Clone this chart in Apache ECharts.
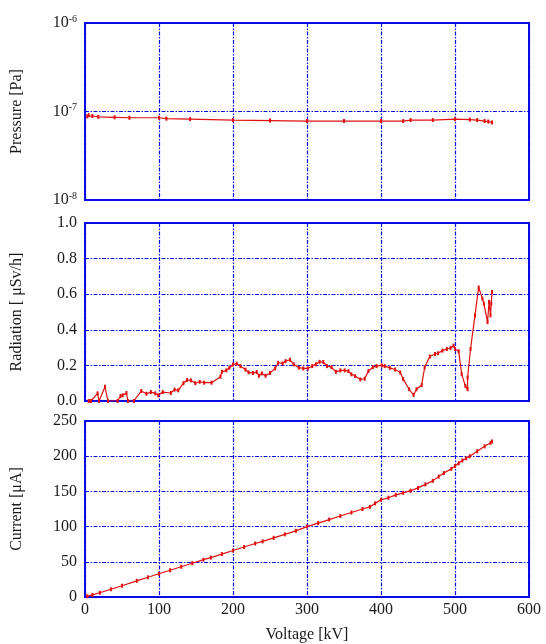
<!DOCTYPE html>
<html>
<head>
<meta charset="utf-8">
<script src="https://cdn.jsdelivr.net/npm/echarts@6/dist/echarts.min.js"></script>
<style>
html, body { margin: 0; padding: 0; background: #fff; }
#main { width: 546px; height: 644px; }
</style>
</head>
<body>
<div id="main"></div>
<script>
// pressure vs voltage
var pressureV = [3, 5, 10, 18, 40, 60, 100, 110, 142, 200, 250, 300, 350, 400, 430, 440, 470, 500, 520, 530, 540, 545, 550];
var pressureP = [8.8e-8, 9.1e-8, 8.9e-8, 8.7e-8, 8.6e-8, 8.5e-8, 8.5e-8, 8.3e-8, 8.2e-8, 8.0e-8, 7.9e-8, 7.8e-8, 7.8e-8, 7.8e-8, 7.8e-8, 8.0e-8, 8.0e-8, 8.2e-8, 8.1e-8, 8.0e-8, 7.8e-8, 7.7e-8, 7.5e-8];

// radiation vs voltage
var radiationV = [5, 8, 17, 19, 27, 31, 44, 48, 51, 56, 58, 66, 76, 83, 89, 95, 99, 105, 116, 121,
  126, 133, 138, 143, 149, 155, 161, 171, 183, 185, 191, 195, 200, 205, 210, 217, 221, 227, 232, 235,
  239, 244, 250, 257, 261, 267, 271, 277, 282, 289, 295, 301, 307, 312, 317, 322, 327, 333, 339, 345,
  351, 356, 360, 365, 372, 378, 383, 389, 394, 401, 405, 412, 419, 426, 430, 438, 444, 448, 455, 459,
  466, 473, 477, 483, 489, 494, 498, 500, 505, 509, 514, 517, 517, 521, 527, 532, 537, 539, 544, 546,
  548, 550, 549];
var radiationR = [0, 0, 0.043, 0, 0.08, 0, 0, 0.028, 0.032, 0.045, 0, 0, 0.056, 0.041, 0.05, 0.043, 0.032, 0.05, 0.045, 0.064,
  0.06, 0.1, 0.118, 0.116, 0.1, 0.108, 0.103, 0.103, 0.136, 0.164, 0.172, 0.187, 0.205, 0.21, 0.196, 0.176, 0.161, 0.157, 0.163, 0.142,
  0.155, 0.142, 0.157, 0.183, 0.215, 0.211, 0.224, 0.232, 0.206, 0.187, 0.183, 0.183, 0.196, 0.206, 0.22, 0.219, 0.196, 0.19, 0.164, 0.172,
  0.172, 0.168, 0.15, 0.14, 0.121, 0.125, 0.168, 0.19, 0.196, 0.2, 0.196, 0.186, 0.177, 0.16, 0.123, 0.066, 0.034, 0.066, 0.09, 0.189,
  0.25, 0.264, 0.268, 0.283, 0.292, 0.298, 0.311, 0.292, 0.279, 0.151, 0.085, 0.066, 0.132, 0.292, 0.481, 0.638, 0.575, 0.547, 0.443, 0.557,
  0.481, 0.613, 0.547];

// current vs voltage
var currentV = [3, 10, 20, 35, 50, 70, 85, 100, 115, 130, 145, 160, 170, 185, 200, 215, 230, 240, 255, 270, 285, 300, 315, 330, 345,
  360, 375, 385, 392, 400, 410, 420, 430, 440, 450, 460, 470, 478, 485, 495, 500, 505, 510, 515, 520, 530, 540, 548, 550];
var currentI = [1, 3, 6, 11, 16, 23, 28, 33, 38, 43, 48, 53, 56, 61, 66, 71, 76, 79, 84, 89, 94, 100, 105, 110, 115,
  120, 125, 128, 133, 138, 141, 145, 148, 151, 155, 160, 165, 171, 176, 182, 186, 190, 194, 197, 200, 207, 214, 219, 221];

var xTicks = [0, 100, 200, 300, 400, 500, 600];
var radTicks = [0, 0.2, 0.4, 0.6, 0.8, 1.0];
var curTicks = [0, 50, 100, 150, 200, 250];

function pairs(xs, ys) {
  var out = [];
  for (var i = 0; i < xs.length; i++) out.push([xs[i], ys[i]]);
  return out;
}

var blue = '#0a0ae6';
var red = '#e01010';
var ink = '#1a1a1a';
var font = '"Liberation Serif", "Times New Roman", serif';

// dash-dot grid like the original plot
var gridLine = { show: true, lineStyle: { color: blue, type: [4, 1.5, 1.5, 1.5], width: 1.2 } };
var axisLineS = { show: false };

function xAxisFor(idx, showLabel) {
  return {
    type: 'value', gridIndex: idx, min: xTicks[0], max: xTicks[xTicks.length - 1], interval: 100,
    axisLine: axisLineS, axisTick: { show: false },
    splitLine: gridLine,
    axisLabel: { show: showLabel, color: ink, fontFamily: font, fontSize: 16, margin: 5 },
    name: showLabel ? 'Voltage [kV]' : '',
    nameLocation: 'middle', nameGap: 30,
    nameTextStyle: { color: ink, fontFamily: font, fontSize: 16 }
  };
}

var lineSeries = function (xi, data) {
  return {
    type: 'line', xAxisIndex: xi, yAxisIndex: xi, data: data,
    symbol: 'rect', symbolSize: [2, 4], showSymbol: true,
    itemStyle: { color: red },
    lineStyle: { color: red, width: 1.2 },
    animation: false
  };
};

var chart = echarts.init(document.getElementById('main'), null, { renderer: 'canvas' });
var option = {
  backgroundColor: '#fff',
  animation: false,
  grid: [
    { left: 85, right: 17, top: 23, height: 177, show: true, borderColor: blue, borderWidth: 2 },
    { left: 85, right: 17, top: 223, height: 178, show: true, borderColor: blue, borderWidth: 2 },
    { left: 85, right: 17, top: 421, height: 178, show: true, borderColor: blue, borderWidth: 2 }
  ],
  xAxis: [xAxisFor(0, false), xAxisFor(1, false), xAxisFor(2, true)],
  yAxis: [
    {
      type: 'log', gridIndex: 0, min: 1e-8, max: 1e-6, logBase: 10,
      axisLine: axisLineS, axisTick: { show: false }, splitLine: gridLine,
      axisLabel: {
        margin: 8,
        formatter: function (v) {
          var e = Math.round(Math.log(v) / Math.LN10);
          return '{b|10}{s|' + e + '}';
        },
        rich: {
          b: { fontFamily: font, fontSize: 16, color: ink },
          s: { fontFamily: font, fontSize: 10, color: ink, verticalAlign: 'top', padding: [0, 0, 8, 0] }
        }
      },
      name: 'Pressure [Pa]', nameLocation: 'middle', nameGap: 60,
      nameTextStyle: { color: ink, fontFamily: font, fontSize: 16 }
    },
    {
      type: 'value', gridIndex: 1, min: radTicks[0], max: radTicks[radTicks.length - 1], interval: 0.2,
      axisLine: axisLineS, axisTick: { show: false }, splitLine: gridLine,
      axisLabel: { color: ink, fontFamily: font, fontSize: 16, margin: 8,
        formatter: function (v) { return v.toFixed(1); } },
      name: 'Radiation [ \u03bcSv/h]', nameLocation: 'middle', nameGap: 60,
      nameTextStyle: { color: ink, fontFamily: font, fontSize: 16 }
    },
    {
      type: 'value', gridIndex: 2, min: curTicks[0], max: curTicks[curTicks.length - 1], interval: 50,
      axisLine: axisLineS, axisTick: { show: false }, splitLine: gridLine,
      axisLabel: { color: ink, fontFamily: font, fontSize: 16, margin: 8 },
      name: 'Current [\u03bcA]', nameLocation: 'middle', nameGap: 60,
      nameTextStyle: { color: ink, fontFamily: font, fontSize: 16 }
    }
  ],
  series: [
    lineSeries(0, pairs(pressureV, pressureP)),
    lineSeries(1, pairs(radiationV, radiationR)),
    lineSeries(2, pairs(currentV, currentI))
  ]
};
chart.setOption(option);
</script>
</body>
</html>
